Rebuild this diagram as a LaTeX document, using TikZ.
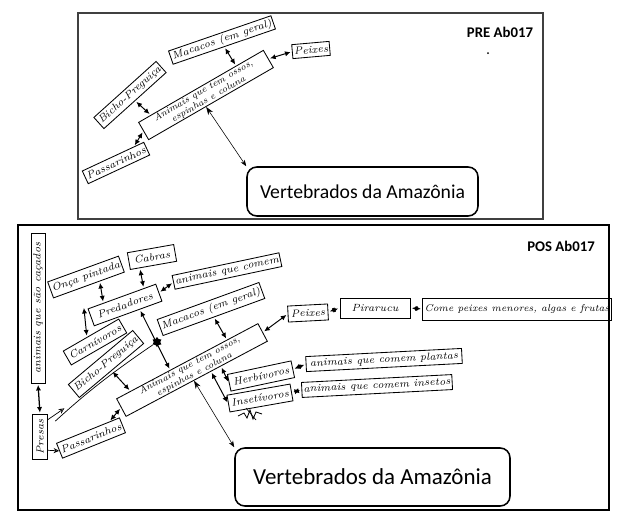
\documentclass[tikz,border=0pt]{standalone}
\usepackage{fontspec}
\usepackage{tikz}
\usetikzlibrary{arrows.meta,calc,shapes.geometric}
\newfontfamily\printfont{Carlito}
\newcommand{\handfont}{\fontsize{7.4}{7.4}\selectfont\itshape}
\newcommand{\anifont}{\fontsize{6.6}{7}\selectfont\itshape}

\begin{document}
\begin{tikzpicture}[
  x=0.025cm, y=-0.025cm,
  hand/.style={draw,line width=0.6pt,inner sep=1.2pt,align=center,font=\handfont},
  len/.style={minimum width=#1*0.025cm},
  ht/.style={minimum height=#1*0.025cm},
  root/.style={draw,rounded corners=7pt,line width=1.1pt},
  link/.style={{Latex[length=1.4mm,width=1.3mm]}-{Latex[length=1.4mm,width=1.3mm]},line width=0.7pt,shorten <=1pt,shorten >=1pt},
  thinlink/.style={{Stealth[length=2mm,width=1.4mm]}-{Stealth[length=1.6mm,width=1.2mm]},line width=0.4pt},
  single/.style={-{Stealth[length=1.4mm,width=1.3mm,open]},line width=0.5pt},
  frame/.style={draw,line width=0.8pt},
  tag/.style={font=\printfont\bfseries\fontsize{10.5}{12}\selectfont}
]
\useasboundingbox (0,0) rectangle (620,516);

% PRE
\draw[frame,black!75] (78,13) rectangle (543,219);
\node[tag] (pretag) at (500,32) {PRE Ab017};
\fill (488,53) circle (1);
\node[hand,len=93,ht=14,rotate=19] (tmac) at (222,40) {Macacos (em geral)};
\node[hand,len=37,ht=14,rotate=5] (tpei) at (311,50) {Peixes};
\node[hand,len=144,ht=17,rotate=30,font=\anifont,inner sep=0.6pt] (tani) at (206,95) {Animais que tem ossos,\\ espinhas e coluna};
\node[hand,len=82,ht=15,rotate=42] (tbic) at (130,95) {Bicho-Preguiça};
\node[hand,len=62,ht=14,rotate=25] (tpas) at (116,163) {Passarinhos};
\node[root,len=231,ht=49,font=\printfont\fontsize{14}{16}\selectfont] (troot) at (362.5,191.5) {Vertebrados da Amazônia};
\draw[link] (tmac.south) -- ($(tani.north west)!.78!(tani.north east)$);
\draw[link] (tani.east) -- (tpei.west);
\draw[link] (tbic.south) -- ($(tani.north west)!.1!(tani.north east)$);
\draw[link] ($(tpas.north west)!.84!(tpas.north east)$) -- (tani.west);
\draw[thinlink] ($(tani.south west)!.46!(tani.south east)$) -- (troot.north west);

% POS
\draw[frame] (18,225) rectangle (609,510);
\node[tag] (postag) at (561,246) {POS Ab017};
\node[hand,len=47,ht=17,rotate=10] (cab) at (152,257) {Cabras};
\node[hand,len=68,ht=17,rotate=20] (onc) at (86,277) {Onça pintada};
\node[hand,len=72,ht=18,rotate=20] (pred) at (125,305) {Predadores};
\node[hand,len=100,ht=14,rotate=12] (aqc) at (227,271) {animais que comem};
\node[hand,len=108,ht=17,rotate=20] (mac) at (211,309) {Macacos (em geral)};
\node[hand,len=64,ht=16,rotate=30] (car) at (95,342) {Carnívoros};
\node[hand,len=84,ht=17,rotate=40] (bic) at (106,364) {Bicho-Preguiça};
\node[hand,len=160,ht=17,rotate=28,font=\anifont,inner sep=0.6pt] (ani) at (192,370) {Animais que tem ossos,\\ espinhas e coluna};
\node[hand,len=40,ht=16,rotate=3] (pei) at (308,313) {Peixes};
\node[hand,len=70,ht=20] (pir) at (375,308) {Pirarucu};
\node[hand,len=174,ht=22,font=\fontsize{7}{7}\selectfont\itshape] (com) at (517,309) {Come peixes menores, algas e frutas};
\node[hand,len=65,ht=17,rotate=12] (her) at (261,376) {Herbívoros};
\node[hand,len=64,ht=17,rotate=10] (ins) at (260,398) {Insetívoros};
\node[hand,len=156,ht=15,rotate=3] (acp) at (384,360) {animais que comem plantas};
\node[hand,len=140,ht=15,rotate=3] (aci) at (377,386) {animais que comem insetos};
\node[hand,len=150,ht=14,rotate=90] (cac) at (38,308) {animais que são caçados};
\node[hand,len=45,ht=15,rotate=90] (pre) at (40,437) {Presas};
\node[hand,len=62,ht=16,rotate=22] (pas) at (91,438) {Passarinhos};
\node[root,len=275,ht=58,font=\printfont\fontsize{16.3}{18}\selectfont] (broot) at (372.5,477) {Vertebrados da Amazônia};

\draw[link] ($(cab.south west)!.21!(cab.south east)$) -- ($(pred.north west)!.82!(pred.north east)$);
\draw[link] ($(onc.south west)!.65!(onc.south east)$) -- ($(pred.north west)!.23!(pred.north east)$);
\draw[link] (pred.east) -- (aqc.west);
\draw[link,shorten >=0.5cm] ($(car.north west)!.43!(car.north east)$) -- ($(onc.south west)!.4!(onc.south east)$);
\draw[link] (mac.south) -- ($(ani.north west)!.78!(ani.north east)$);
\draw[link] ($(pred.south west)!.67!(pred.south east)$) -- ($(ani.north west)!.38!(ani.north east)$);
\draw[link] (bic.south) -- ($(ani.north west)!.1!(ani.north east)$);
\draw[link] (ani.east) -- (pei.west);
\draw[link] (pei.east) -- (pir.west);
\draw[link] (pir.east) -- (com.west);
\draw[link] ($(ani.south west)!.67!(ani.south east)$) -- (her.west);
\draw[link] ($(ani.south west)!.6!(ani.south east)$) -- (ins.west);
\draw[link] (her.east) -- (acp.west);
\draw[link] (ins.east) -- (aci.west);
\draw[link] ($(pas.north west)!.84!(pas.north east)$) -- (ani.west);
\draw[thinlink] ($(ani.south west)!.48!(ani.south east)$) -- (broot.north west);
\draw[link,line width=0.9pt] (cac.west) -- (pre.east);
\draw[single,shorten >=0.45cm] ($(pre.south west)!.88!(pre.south east)$) -- (bic.south west);
\draw[single] ($(pre.south west)!.21!(pre.south east)$) -- (pas.west);
\node[star,star points=6,fill,inner sep=0pt,minimum size=0.25cm] (blob) at (157,342) {};
\draw[line width=0.5pt,shorten <=0.25cm] ($(pre.south west)!.7!(pre.south east)$) to[bend left=4] (blob);

\coordinate (scrib) at (250,414);
\draw[line width=0.6pt] (scrib) ++(-12,2) -- ++(6,-3) -- ++(3,5) -- ++(3,-8) -- ++(3,9) -- ++(3,-7) -- ++(6,2);
\draw[line width=0.5pt] (scrib) ++(-4,-6) -- ++(10,12);
\end{tikzpicture}
\end{document}
